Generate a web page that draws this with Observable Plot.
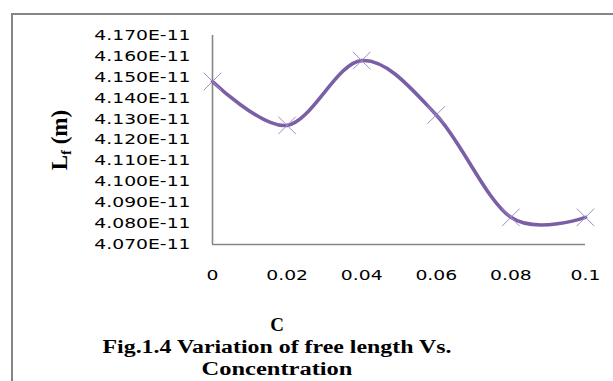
<!DOCTYPE html>
<html><head><meta charset="utf-8">
<script src="https://cdn.jsdelivr.net/npm/d3@7"></script>
<script src="https://cdn.jsdelivr.net/npm/@observablehq/plot@0.6"></script>
<style>
body{margin:0;background:#fff;}
#wrap{position:relative;width:613px;height:381px;overflow:hidden;background:#fff;}
#frame{position:absolute;left:11px;top:13px;width:620px;height:400px;border-left:2px solid #858585;border-top:2px solid #858585;}
#chart{position:absolute;left:0;top:0;}
</style></head><body>
<div id="wrap"><div id="frame"></div><div id="chart"></div></div>
<script>
// Data
const concentration = [0, 0.02, 0.04, 0.06, 0.08, 0.1];
const freeLength = [4.148e-11, 4.127e-11, 4.158e-11, 4.132e-11, 4.083e-11, 4.083e-11];
const yTicks = [4.070e-11, 4.080e-11, 4.090e-11, 4.100e-11, 4.110e-11, 4.120e-11, 4.130e-11, 4.140e-11, 4.150e-11, 4.160e-11, 4.170e-11];
const yTickLabels = ["4.070E-11","4.080E-11","4.090E-11","4.100E-11","4.110E-11","4.120E-11","4.130E-11","4.140E-11","4.150E-11","4.160E-11","4.170E-11"];
const xTicks = [0, 0.02, 0.04, 0.06, 0.08, 0.1];
const xTickLabels = ["0","0.02","0.04","0.06","0.08","0.1"];
const xTitle = "C";
const yTitleMain = "L", yTitleSub = "f", yTitleRest = " (m)";
const captionLines = ["Fig.1.4 Variation of free length Vs.", "Concentration"];

const rows = concentration.map((c, i) => ({c, v: freeLength[i]}));
const yLab = new Map(yTicks.map((t, i) => [t, yTickLabels[i]]));
const xLab = new Map(xTicks.map((t, i) => [t, xTickLabels[i]]));

const plot = Plot.plot({
  width: 613, height: 381,
  marginTop: 35, marginBottom: 137, marginLeft: 212, marginRight: 28,
  style: {background: "transparent", fontFamily: "'DejaVu Sans', sans-serif", fontSize: "14px", color: "#000"},
  x: {domain: [0, 0.1]},
  y: {domain: [4.07e-11, 4.17e-11]},
  marks: [
    Plot.axisY({ticks: yTicks, tickFormat: d => yLab.get(d), tickSize: 0, tickPadding: 22, label: null, fontSize: 14}),
    Plot.axisX({ticks: xTicks, tickFormat: d => xLab.get(d), tickSize: 0, tickPadding: 26, label: null, fontSize: 14}),
    Plot.ruleX([0], {stroke: "#868686", strokeWidth: 1.6}),
    Plot.ruleY([4.07e-11], {stroke: "#868686", strokeWidth: 1.6}),
    Plot.line(rows, {x: "c", y: "v", curve: "cardinal", stroke: "#7b5fa6", strokeWidth: 3.6}),
    Plot.dot(rows, {x: "c", y: "v", symbol: "times", r: 8, stroke: "#9f8bc8", strokeWidth: 1})
  ]
});
document.getElementById("chart").appendChild(plot);

// stretch tick labels horizontally like the reference
d3.select(plot).selectAll("g[aria-label='y-axis tick label'] text, g[aria-label='x-axis tick label'] text").each(function() {
  const w = this.getComputedTextLength();
  this.setAttribute("textLength", w * 1.34);
  this.setAttribute("lengthAdjust", "spacingAndGlyphs");
});

const svg = d3.select(plot);
const serif = "'Liberation Serif', 'Times New Roman', serif";
// y title
const yt = svg.append("text")
  .attr("transform", "translate(67,140) rotate(-90)")
  .attr("text-anchor", "middle")
  .attr("font-family", serif).attr("font-weight", "bold").attr("font-size", 23).attr("fill", "#000");
yt.append("tspan").text(yTitleMain);
yt.append("tspan").attr("font-size", 14).attr("dy", 4).text(yTitleSub);
yt.append("tspan").attr("dy", -4).text(yTitleRest);
// x title
svg.append("text").attr("x", 277).attr("y", 331).attr("text-anchor", "middle")
  .attr("font-family", serif).attr("font-weight", "bold").attr("font-size", 19).attr("fill", "#000").text(xTitle);
// caption
const capW = [349, 151];
const capY = [353, 375];
captionLines.forEach((t, i) => {
  svg.append("text").attr("x", 277).attr("y", capY[i]).attr("text-anchor", "middle")
    .attr("font-family", serif).attr("font-weight", "bold").attr("font-size", 18).attr("fill", "#000")
    .attr("textLength", capW[i]).attr("lengthAdjust", "spacingAndGlyphs").text(t);
});
</script>
</body></html>
